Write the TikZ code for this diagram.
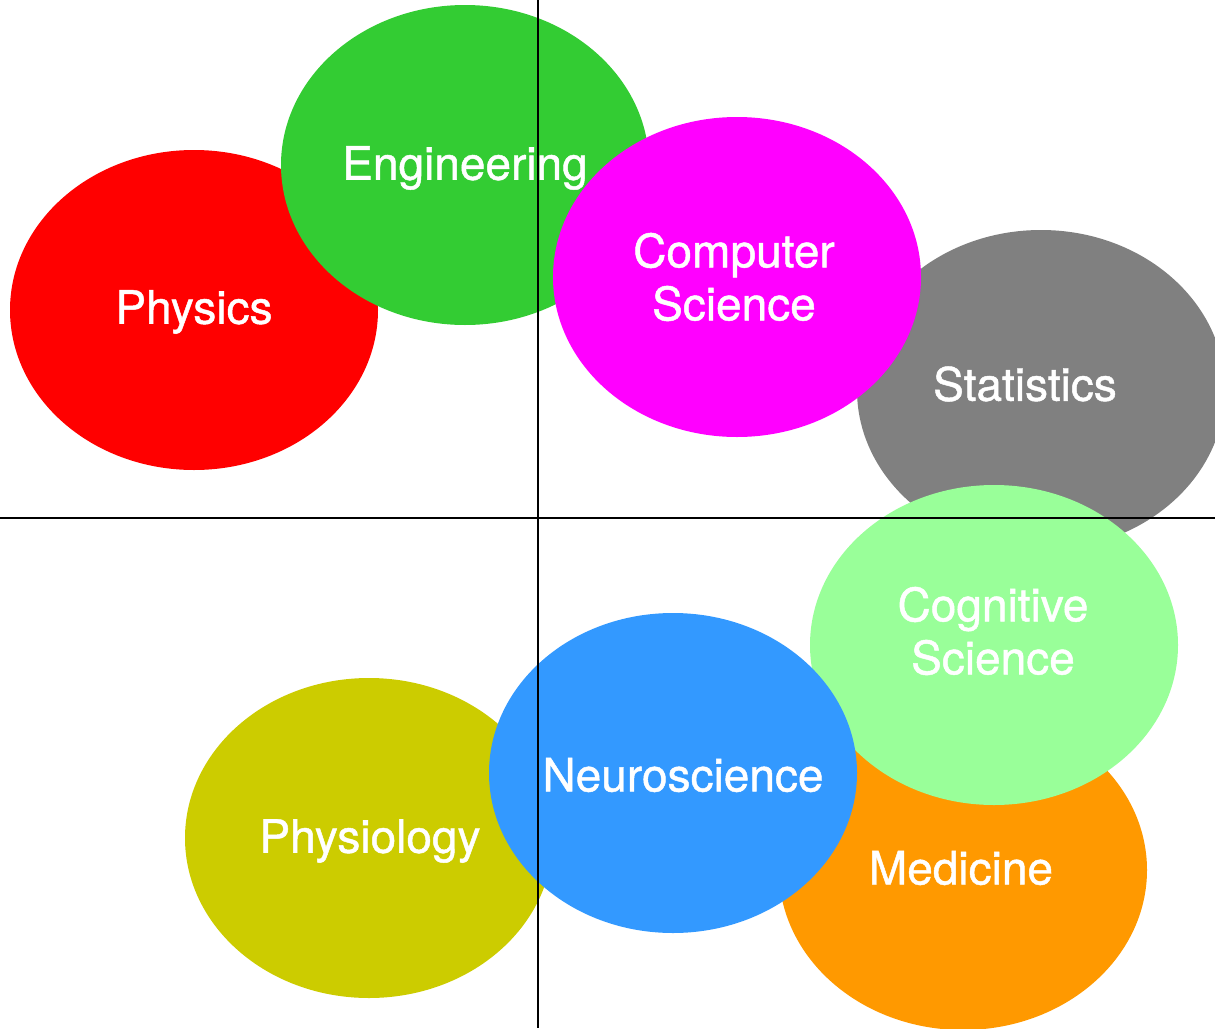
\documentclass[tikz,border=0pt]{standalone}
\usepackage{fontspec}
\setmainfont{TeX Gyre Heros}
\newfontfamily\tagfont{TeX Gyre Heros}[FakeBold=1]
\usetikzlibrary{shapes.geometric}
\definecolor{physred}{HTML}{FF0000}
\definecolor{enggreen}{HTML}{33CC33}
\definecolor{csmagenta}{HTML}{FF00FF}
\definecolor{statgray}{HTML}{808080}
\definecolor{coglight}{HTML}{99FF99}
\definecolor{medorange}{HTML}{FF9900}
\definecolor{neuroblue}{HTML}{3399FF}
\definecolor{physolive}{HTML}{CCCC00}

\begin{document}
\begin{tikzpicture}[
    x=0.5pt, y=-0.5pt,
    field/.style={ellipse, draw=none, inner sep=0pt, minimum width=184pt, minimum height=160pt},
    tag/.style={text=white, align=center, font=\tagfont\fontsize{23}{26.5}\selectfont},
    axis/.style={black, line width=1pt}
]
\useasboundingbox (0,0) rectangle (1215,1028);

% Upper fields
\node[field, fill=physred] (phys) at (194,310) {};
\node[field, fill=enggreen] (eng) at (465,165) {};
\node[field, fill=statgray] (stat) at (1041,390) {};
\node[field, fill=csmagenta] (cs) at (737,277) {};

% Lower fields
\node[field, fill=medorange] (med) at (963,870) {};
\node[field, fill=coglight] (cog) at (994,645) {};
\node[field, fill=physolive] (physio) at (369,838) {};
\node[field, fill=neuroblue] (neuro) at (673,773) {};

% Labels (offsets in px, downward positive)
\foreach \f/\txt/\dx/\dy in {phys/Physics/0/2, eng/Engineering/0/3, cs/{Computer\\Science}/-3/0,
    stat/Statistics/-16/-6, med/Medicine/-2/-2, cog/{Cognitive\\Science}/-1/-14,
    physio/Physiology/1/3, neuro/Neuroscience/10/2} {
    \node[tag] (\f-lbl) at ([xshift=\dx*0.5pt, yshift=-\dy*0.5pt]\f.center) {\txt};
}

% Quadrant axes
\coordinate (top) at (538,0);
\coordinate (bottom) at (538,1028);
\coordinate (left) at (0,518);
\coordinate (right) at (1215,518);
\draw[axis] (top) -- (bottom);
\draw[axis] (left) -- (right);
\end{tikzpicture}
\end{document}
